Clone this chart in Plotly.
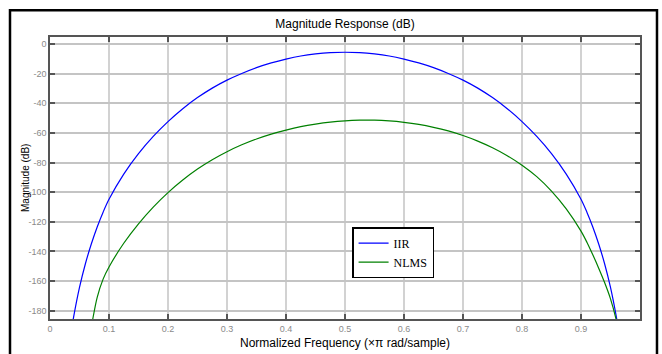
import plotly.graph_objects as go

# ---- data ----
iir_freq = [0.035, 0.04, 0.05, 0.06, 0.07, 0.08, 0.09, 0.1, 0.125, 0.15,
            0.175, 0.2, 0.225, 0.25, 0.275, 0.3, 0.325, 0.35, 0.375, 0.4,
            0.425, 0.45, 0.475, 0.5, 0.525, 0.55, 0.575, 0.6, 0.625, 0.65,
            0.675, 0.7, 0.725, 0.75, 0.775, 0.8, 0.825, 0.85, 0.875, 0.9,
            0.91, 0.92, 0.93, 0.94, 0.95, 0.96, 0.965]
iir_db = [-196.3, -184.3, -164.3, -148.3, -135.0, -123.5, -113.5, -104.8, -87.8, -74.0,
          -62.4, -52.4, -43.7, -36.2, -29.8, -24.4, -19.9, -16.0, -12.8, -10.2,
          -8.1, -6.7, -5.85, -5.6, -5.85, -6.7, -8.1, -10.2, -12.8, -16.0,
          -19.9, -24.4, -29.8, -36.2, -43.7, -52.4, -62.4, -74.0, -87.8, -104.8,
          -113.5, -123.5, -135.0, -148.3, -164.3, -184.3, -196.3]

nlms_freq = [0.068, 0.0725, 0.08, 0.09, 0.1, 0.125, 0.15, 0.175, 0.2, 0.225,
             0.25, 0.275, 0.3, 0.325, 0.35, 0.375, 0.4, 0.425, 0.45, 0.475,
             0.5, 0.525, 0.55, 0.575, 0.6, 0.625, 0.65, 0.675, 0.7, 0.725,
             0.75, 0.775, 0.8, 0.825, 0.85, 0.875, 0.9, 0.91, 0.92, 0.93,
             0.94, 0.95, 0.959, 0.963]
nlms_db = [-196, -185.6, -171, -158.7, -150.5, -134.5, -121.4, -110.1, -100.3, -91.8,
           -84.4, -78.1, -72.7, -68.05, -64.1, -60.8, -58.1, -55.8, -54.05, -52.7,
           -51.85, -51.45, -51.45, -51.95, -52.9, -54.3, -56.25, -58.7, -61.8, -65.55,
           -70.05, -75.4, -81.85, -89.55, -99.3, -111.3, -126.3, -133.8, -142.3, -151.3,
           -161, -172, -185, -192.5]

x_tick_vals = [0, 0.1, 0.2, 0.3, 0.4, 0.5, 0.6, 0.7, 0.8, 0.9]
x_tick_text = ["0", "0.1", "0.2", "0.3", "0.4", "0.5", "0.6", "0.7", "0.8", "0.9"]
y_tick_vals = [0, -20, -40, -60, -80, -100, -120, -140, -160, -180]
y_tick_text = ["0", "-20", "-40", "-60", "-80", "-100", "-120", "-140", "-160", "-180"]

NARROW = "Liberation Sans Narrow, Arial Narrow, Liberation Sans, Arial, sans-serif"

fig = go.Figure()
fig.add_trace(go.Scatter(x=iir_freq, y=iir_db, mode="lines", name="IIR",
                         line=dict(color="#0000ff", width=1.2, shape="spline", smoothing=0.9)))
fig.add_trace(go.Scatter(x=nlms_freq, y=nlms_db, mode="lines", name="NLMS",
                         line=dict(color="#008000", width=1.2, shape="spline", smoothing=0.9)))

axis_common = dict(
    showline=True, linecolor="#555555", linewidth=1.5, mirror="ticks",
    ticks="inside", ticklen=5, tickwidth=1.5, tickcolor="#555555",
    showgrid=True, zeroline=False,
    tickfont=dict(family=NARROW, size=9, color="#8a8a8a"),
)

fig.update_xaxes(range=[0, 1], tickmode="array", tickvals=x_tick_vals, ticktext=x_tick_text,
                 gridcolor="#d2d2d2", gridwidth=1.5, **axis_common)
fig.update_yaxes(range=[-185.6, 4.7], tickmode="array", tickvals=y_tick_vals, ticktext=y_tick_text,
                 gridcolor="#c4c4c4", gridwidth=1.8, **axis_common)

fig.update_layout(
    width=662, height=354,
    margin=dict(l=50, r=22, t=37, b=35),
    paper_bgcolor="white", plot_bgcolor="white",
    showlegend=True,
    legend=dict(x=0.512, y=0.326, xanchor="left", yanchor="top",
                bgcolor="white", bordercolor="black", borderwidth=1.5,
                font=dict(family="Liberation Serif, Times New Roman, serif", size=12, color="black"),
                itemwidth=30, tracegroupgap=0),
    title=dict(text="Magnitude Response (dB)", x=0.5, xref="paper", y=1 - 24 / 354,
               yanchor="middle", xanchor="center",
               font=dict(family=NARROW, size=12, color="black")),
    annotations=[
        dict(text="Normalized Frequency (\u00d7\u03c0 rad/sample)", xref="paper", yref="paper",
             x=0.5, y=-0.085, xanchor="center", yanchor="middle", showarrow=False,
             font=dict(family=NARROW, size=12, color="black")),
        dict(text="Magnitude (dB)", xref="paper", yref="paper", textangle=-90,
             x=-0.0424, y=0.5, xanchor="center", yanchor="middle", showarrow=False,
             font=dict(family="Liberation Sans, Arial, sans-serif", size=10, color="black")),
    ],
    shapes=[
        dict(type="rect", xref="paper", yref="paper",
             x0=-0.0678, x1=1.0288, y0=-0.3, y1=1.0947,
             line=dict(color="black", width=2.5), fillcolor="rgba(0,0,0,0)", layer="above"),
    ],
)

fig.write_html("out.html")
